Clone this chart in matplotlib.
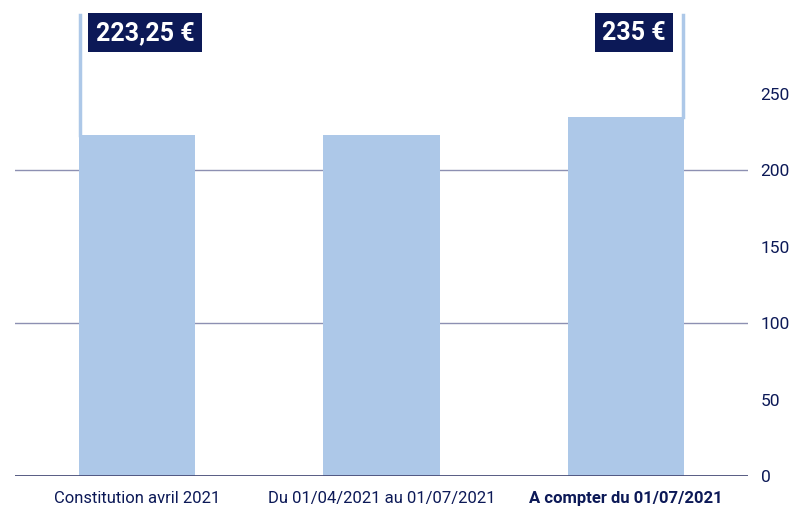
import matplotlib
matplotlib.use("Agg")
import matplotlib.pyplot as plt

plt.rcParams["font.family"] = ["Roboto", "DejaVu Sans"]

categories = ["Constitution avril 2021", "Du 01/04/2021 au 01/07/2021", "A compter du 01/07/2021"]
values = [223.25, 223.25, 235]
yticks = [0, 50, 100, 150, 200, 250]
grid_values = [100, 200]

navy = "#0c1957"
bar_color = "#adc8e8"

fig = plt.figure(figsize=(7.89, 5.12), dpi=100)
ax = fig.add_axes([15 / 789, 36 / 512, 733 / 789, 466 / 512])

x = list(range(len(categories)))
bw = 0.477
ax.bar(x, values, width=bw, color=bar_color, zorder=2)

for g in grid_values:
    ax.axhline(g, color="#8d90b2", lw=1, zorder=1)
ax.axhline(0, color="#4a4f7a", lw=1.3, zorder=3)

ax.set_xlim(-0.5, 2.5)
ax.set_ylim(0, 305)

# connector lines + value boxes
top = 302
ax.plot([x[0] - bw / 2 + 0.005] * 2, [values[0], top], color=bar_color, lw=2.5, zorder=2)
ax.plot([x[2] + bw / 2 - 0.005] * 2, [values[2], top], color=bar_color, lw=2.5, zorder=2)
box = dict(boxstyle="square,pad=0.3", fc=navy, ec="none")
ax.text(x[0] - bw / 2 + 0.07, 290, "223,25 €", color="white", fontsize=18, fontweight="bold",
        ha="left", va="center", bbox=box, zorder=4)
ax.text(x[2] + bw / 2 - 0.075, 290, "235 €", color="white", fontsize=18, fontweight="bold",
        ha="right", va="center", bbox=box, zorder=4)

ax.yaxis.tick_right()
ax.set_yticks(yticks)
ax.set_yticklabels([str(v) for v in yticks])
ax.tick_params(axis="y", length=0, pad=9, labelsize=12.5, labelcolor=navy)
ax.set_xticks(x)
ax.set_xticklabels(categories)
ax.tick_params(axis="x", length=0, pad=11, labelsize=12, labelcolor=navy)
ax.get_xticklabels()[2].set_fontweight("bold")

for s in ax.spines.values():
    s.set_visible(False)

fig.savefig("out.png", dpi=100)
